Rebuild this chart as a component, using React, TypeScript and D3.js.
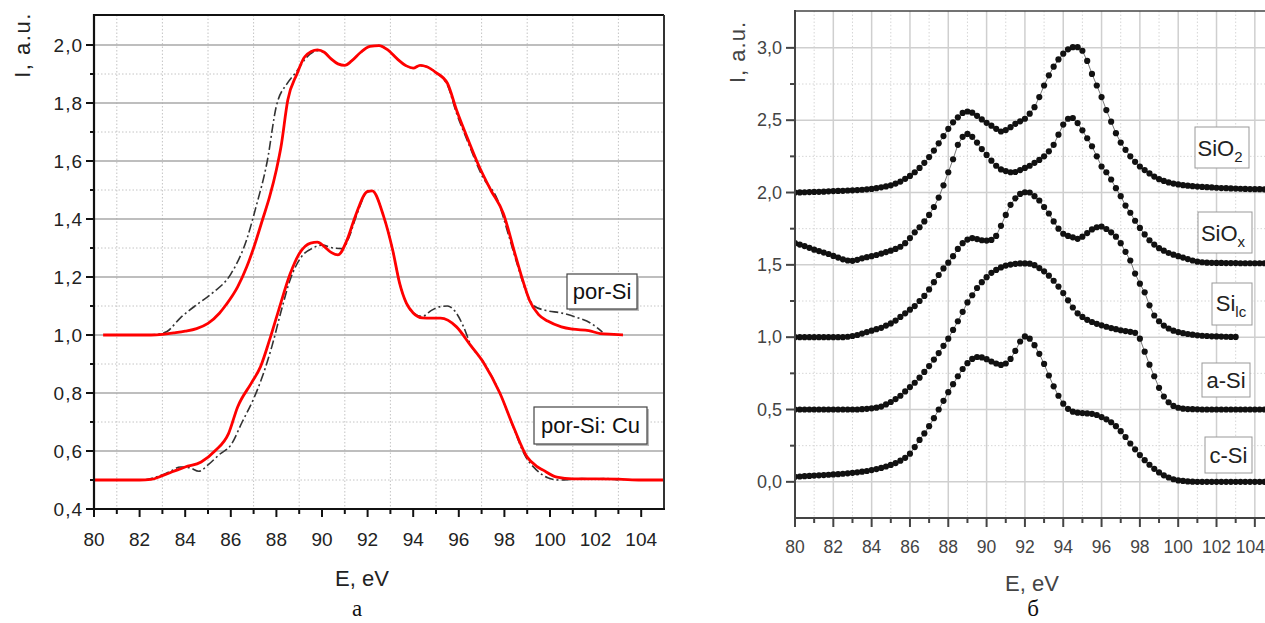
import React from 'react';
import * as d3 from 'd3';

// ---------- panel "а": por-Si and por-Si:Cu ----------
const porSiE = [80.4, 81.5, 82.5, 83.0, 83.5, 84.0, 84.5, 85.0, 85.5, 85.8, 86.3, 86.7, 87.0, 87.4, 87.7, 88.0, 88.2, 88.5, 88.9, 89.25, 89.8, 90.1, 90.4, 90.7, 91.0, 91.3, 91.7, 92.1, 92.5, 92.9, 93.3, 93.7, 94.0, 94.3, 94.6, 95.0, 95.5, 95.9, 96.4, 96.9, 97.4, 97.95, 98.5, 98.8, 99.1, 99.5, 99.9, 100.5, 101.0, 101.7, 102.2, 102.8, 103.2];
const porSiI = [1.000, 1.000, 1.000, 1.002, 1.007, 1.013, 1.022, 1.040, 1.075, 1.105, 1.166, 1.235, 1.300, 1.400, 1.476, 1.570, 1.648, 1.810, 1.900, 1.960, 1.983, 1.975, 1.952, 1.935, 1.930, 1.945, 1.975, 1.995, 1.998, 1.982, 1.952, 1.928, 1.920, 1.930, 1.925, 1.905, 1.868, 1.776, 1.675, 1.580, 1.500, 1.420, 1.270, 1.190, 1.120, 1.070, 1.048, 1.028, 1.020, 1.015, 1.005, 1.002, 1.000];

const porSiRefE = [82.3, 82.8, 83.2, 83.8, 84.6, 85.2, 86.0, 86.7, 87.1, 87.6, 88.0, 88.5, 88.9, 89.3, 89.8, 90.1, 90.4, 90.7, 91.0, 91.3, 91.7, 92.1, 92.5, 92.9, 93.3, 93.7, 94.0, 94.3, 94.6, 95.0, 95.5, 95.9, 96.4, 97.05, 97.7, 98.2, 98.6, 99.0, 99.3, 99.8, 100.5, 101.2, 101.8, 102.3];
const porSiRefI = [1.000, 1.003, 1.012, 1.060, 1.110, 1.145, 1.210, 1.330, 1.440, 1.600, 1.790, 1.870, 1.910, 1.955, 1.980, 1.975, 1.952, 1.935, 1.930, 1.945, 1.975, 1.995, 1.998, 1.982, 1.952, 1.928, 1.920, 1.930, 1.925, 1.905, 1.862, 1.765, 1.665, 1.545, 1.466, 1.340, 1.234, 1.140, 1.100, 1.085, 1.076, 1.060, 1.040, 1.010];

const porSiCuE = [80.0, 81.0, 82.0, 82.5, 83.0, 83.5, 84.0, 84.7, 85.3, 85.9, 86.3, 86.9, 87.3, 87.7, 88.1, 88.6, 89.0, 89.5, 89.8, 90.1, 90.4, 90.7, 91.1, 91.45, 92.0, 92.2, 92.7, 93.1, 93.4, 93.7, 94.0, 94.4, 94.8, 95.2, 95.9, 96.5, 97.1, 97.8, 98.4, 99.0, 99.4, 99.7, 100.3, 101.0, 102.0, 103.0, 104.0, 105.0];
const porSiCuI = [0.500, 0.500, 0.500, 0.502, 0.515, 0.530, 0.545, 0.562, 0.600, 0.660, 0.752, 0.834, 0.890, 0.983, 1.086, 1.210, 1.280, 1.317, 1.320, 1.305, 1.285, 1.276, 1.328, 1.407, 1.495, 1.497, 1.410, 1.293, 1.180, 1.110, 1.076, 1.059, 1.058, 1.058, 1.028, 0.966, 0.903, 0.800, 0.683, 0.579, 0.548, 0.534, 0.510, 0.504, 0.504, 0.503, 0.500, 0.500];

const porSiCuRefE = [82.2, 82.8, 83.3, 83.8, 84.2, 84.6, 85.0, 85.5, 86.0, 86.5, 87.0, 87.4, 87.8, 88.2, 88.6, 89.1, 89.6, 90.0, 90.5, 90.9, 91.2, 91.5, 92.0, 92.2, 92.7, 93.1, 93.4, 93.7, 94.0, 94.4, 94.8, 95.2, 95.5, 95.8, 96.2, 96.5, 97.1, 97.8, 98.4, 98.9, 99.4, 99.9, 100.4, 100.9, 101.4, 101.9, 102.4, 103.0];
const porSiCuRefI = [0.500, 0.512, 0.528, 0.545, 0.542, 0.530, 0.552, 0.588, 0.620, 0.700, 0.780, 0.860, 0.960, 1.080, 1.190, 1.270, 1.300, 1.310, 1.300, 1.298, 1.340, 1.410, 1.493, 1.497, 1.410, 1.293, 1.180, 1.110, 1.076, 1.064, 1.085, 1.098, 1.100, 1.085, 1.030, 0.970, 0.905, 0.800, 0.680, 0.585, 0.535, 0.508, 0.500, 0.502, 0.505, 0.503, 0.505, 0.500];

const leftXTicks = [80, 82, 84, 86, 88, 90, 92, 94, 96, 98, 100, 102, 104];
const leftXMinor = [81, 83, 85, 87, 89, 91, 93, 95, 97, 99, 101, 103];
const leftYTicks = [0.4, 0.6, 0.8, 1.0, 1.2, 1.4, 1.6, 1.8, 2.0];
const leftYMinor = [0.5, 0.7, 0.9, 1.1, 1.3, 1.5, 1.7, 1.9];

// ---------- panel "б": reference spectra, one point every 0.25 eV from 80 eV ----------
const startE = 80;
const stepE = 0.25;
const sio2 = [
  2.000, 2.001, 2.002, 2.003, 2.004, 2.005, 2.006, 2.008, 2.010, 2.011, 2.012, 2.014, 2.015, 2.017, 2.019, 2.022, 2.025,
  2.030, 2.036, 2.042, 2.050, 2.062, 2.076, 2.095, 2.115, 2.140, 2.170, 2.205, 2.245, 2.290, 2.340, 2.390, 2.440,
  2.485, 2.520, 2.550, 2.560, 2.552, 2.530, 2.505, 2.482, 2.462, 2.440, 2.422, 2.432, 2.452, 2.475, 2.492, 2.510,
  2.545, 2.590, 2.660, 2.740, 2.810, 2.870, 2.920, 2.960, 2.990, 3.005, 3.005, 2.980, 2.910, 2.820, 2.740, 2.660,
  2.570, 2.490, 2.410, 2.345, 2.295, 2.250, 2.212, 2.180, 2.155, 2.132, 2.110, 2.092, 2.080, 2.070, 2.062, 2.056,
  2.051, 2.047, 2.044, 2.041, 2.039, 2.037, 2.035, 2.033, 2.031, 2.030, 2.028, 2.027, 2.026, 2.025, 2.024, 2.023,
  2.023, 2.022, 2.022, 2.022,
];
const siox = [
  1.650, 1.640, 1.630, 1.618, 1.605, 1.595, 1.585, 1.575, 1.562, 1.550, 1.538, 1.530, 1.528, 1.535, 1.545, 1.553, 1.560,
  1.568, 1.578, 1.588, 1.598, 1.610, 1.625, 1.650, 1.685, 1.725, 1.760, 1.800, 1.845, 1.900, 1.965, 2.050, 2.140,
  2.230, 2.330, 2.385, 2.405, 2.385, 2.345, 2.300, 2.260, 2.220, 2.185, 2.160, 2.148, 2.140, 2.142, 2.155, 2.170,
  2.185, 2.205, 2.225, 2.250, 2.285, 2.330, 2.400, 2.470, 2.510, 2.515, 2.480, 2.430, 2.375, 2.320, 2.250, 2.180,
  2.140, 2.090, 2.030, 1.975, 1.910, 1.860, 1.805, 1.755, 1.710, 1.670, 1.640, 1.615, 1.598, 1.582, 1.570, 1.560,
  1.550, 1.540, 1.530, 1.522, 1.518, 1.515, 1.514, 1.513, 1.513, 1.512, 1.512, 1.512, 1.511, 1.511, 1.511, 1.511,
  1.511, 1.511, 1.510, 1.510,
];
const silc = [
  1.000, 1.000, 1.000, 1.000, 1.000, 1.000, 1.000, 1.000, 1.000, 1.000, 1.000, 1.003, 1.008, 1.015, 1.025, 1.035, 1.045,
  1.055, 1.065, 1.080, 1.095, 1.115, 1.140, 1.165, 1.190, 1.215, 1.250, 1.285, 1.330, 1.380, 1.430, 1.475, 1.515,
  1.560, 1.610, 1.650, 1.675, 1.685, 1.678, 1.670, 1.668, 1.672, 1.700, 1.770, 1.845, 1.915, 1.960, 1.990, 2.002,
  2.000, 1.975, 1.945, 1.900, 1.855, 1.800, 1.750, 1.715, 1.700, 1.690, 1.680, 1.695, 1.720, 1.745, 1.760, 1.765,
  1.748, 1.725, 1.695, 1.650, 1.590, 1.530, 1.440, 1.370, 1.310, 1.220, 1.150, 1.110, 1.080, 1.060, 1.045, 1.035,
  1.028, 1.022, 1.017, 1.013, 1.010, 1.008, 1.006, 1.005, 1.004, 1.003, 1.002, 1.002,
];
const aSi = [
  0.500, 0.500, 0.500, 0.500, 0.500, 0.500, 0.500, 0.500, 0.500, 0.500, 0.500, 0.500, 0.500, 0.500, 0.502, 0.505, 0.508,
  0.513, 0.520, 0.535, 0.552, 0.572, 0.595, 0.625, 0.655, 0.685, 0.720, 0.760, 0.800, 0.845, 0.890, 0.940, 0.990,
  1.050, 1.110, 1.175, 1.240, 1.290, 1.340, 1.380, 1.415, 1.445, 1.465, 1.482, 1.495, 1.502, 1.507, 1.510, 1.510,
  1.508, 1.498, 1.478, 1.455, 1.425, 1.390, 1.350, 1.305, 1.255, 1.205, 1.165, 1.140, 1.120, 1.105, 1.092, 1.082,
  1.072, 1.063, 1.055, 1.048, 1.042, 1.037, 1.030, 0.990, 0.900, 0.810, 0.730, 0.650, 0.590, 0.550, 0.525, 0.512,
  0.506, 0.503, 0.502, 0.501, 0.500, 0.500, 0.500, 0.500, 0.500, 0.500, 0.500, 0.500, 0.500, 0.500, 0.500, 0.500,
  0.500, 0.500, 0.500, 0.500,
];
const cSi = [
  0.035, 0.037, 0.039, 0.041, 0.043, 0.045, 0.047, 0.049, 0.051, 0.053, 0.056, 0.059, 0.062, 0.066, 0.070, 0.075, 0.081,
  0.088, 0.096, 0.106, 0.117, 0.130, 0.146, 0.166, 0.195, 0.240, 0.290, 0.335, 0.385, 0.440, 0.500, 0.560, 0.620,
  0.675, 0.730, 0.780, 0.820, 0.850, 0.863, 0.860, 0.848, 0.832, 0.818, 0.808, 0.818, 0.850, 0.905, 0.970, 1.005,
  0.990, 0.945, 0.885, 0.815, 0.735, 0.660, 0.595, 0.540, 0.505, 0.485, 0.478, 0.475, 0.473, 0.470, 0.462, 0.448,
  0.432, 0.412, 0.385, 0.350, 0.310, 0.265, 0.225, 0.185, 0.150, 0.118, 0.090, 0.065, 0.045, 0.030, 0.018, 0.010,
  0.006, 0.003, 0.001, 0.000, 0.000, 0.000, 0.000, 0.000, 0.000, 0.000, 0.000, 0.000, 0.000, 0.000, 0.000, 0.000,
  0.000, 0.000, 0.000, 0.000,
];

const rightXTicks = [80, 82, 84, 86, 88, 90, 92, 94, 96, 98, 100, 102, 104];
const rightXMinor = [81, 83, 85, 87, 89, 91, 93, 95, 97, 99, 101, 103];
const rightYTicks = [0, 0.5, 1.0, 1.5, 2.0, 2.5, 3.0];
const rightYMinor = [0.25, 0.75, 1.25, 1.75, 2.25, 2.75];

const SANS = '"Liberation Sans", Arial, sans-serif';
const SERIF = '"Liberation Serif", "DejaVu Serif", serif';
const fmt = (v: number) => v.toFixed(1).replace('.', ',');

const App = () => {
  // panel а
  const xL = d3.scaleLinear().domain([80, 105]).range([94, 664]);
  const yL = d3.scaleLinear().domain([0.4, 2.1]).range([509, 16]);
  const lineL = d3.line<[number, number]>()
    .x(d => xL(d[0]))
    .y(d => yL(d[1]))
    .curve(d3.curveMonotoneX);
  const zip = (e: number[], v: number[]) => e.map((x, i) => [x, v[i]] as [number, number]);

  // panel б
  const xR = d3.scaleLinear().domain([80, 105]).range([795, 1274]);
  const yR = d3.scaleLinear().domain([-0.25, 3.25]).range([518, 11.7]);
  const lineR = d3.line<number>()
    .x((d, i) => xR(startE + i * stepE))
    .y(d => yR(d));
  const rightSeries = [sio2, siox, silc, aSi, cSi];

  const [l0, l1] = xL.range();
  const b0 = yL.range()[0];

  return (
    <svg width={1265} height={623} style={{ position: 'absolute', left: 0, top: 0, background: '#fff' }}>
      <defs>
        <clipPath id="clipL"><rect x={94} y={15} width={570} height={494} /></clipPath>
        <clipPath id="clipR"><rect x={795} y={11} width={480} height={507} /></clipPath>
      </defs>

      {/* ---------------- panel а ---------------- */}
      <g>
        {leftYMinor.map(v => (
          <line key={'lym' + v} x1={l0} x2={664} y1={yL(v)} y2={yL(v)} stroke="#c4c4c4" strokeWidth={1} strokeDasharray="1.5,2" />
        ))}
        {leftXMinor.map(v => (
          <line key={'lxm' + v} x1={xL(v)} x2={xL(v)} y1={15} y2={b0} stroke="#c4c4c4" strokeWidth={1} strokeDasharray="1.5,2" />
        ))}
        {leftYTicks.filter(v => v > 0.4).map(v => (
          <line key={'lyg' + v} x1={l0} x2={664} y1={yL(v)} y2={yL(v)} stroke="#a8a8a8" strokeWidth={1.4} />
        ))}

        <g clipPath="url(#clipL)" fill="none">
          <path d={lineL(zip(porSiRefE, porSiRefI)) || ''} stroke="#333" strokeWidth={1.6} strokeDasharray="9,3,2,3" />
          <path d={lineL(zip(porSiCuRefE, porSiCuRefI)) || ''} stroke="#333" strokeWidth={1.6} strokeDasharray="9,3,2,3" />
          <path d={lineL(zip(porSiE, porSiI)) || ''} stroke="#ff0000" strokeWidth={2.8} />
          <path d={lineL(zip(porSiCuE, porSiCuI)) || ''} stroke="#ff0000" strokeWidth={2.8} />
        </g>

        {/* frame */}
        <line x1={l0} x2={l1} y1={15} y2={15} stroke="#111" strokeWidth={2} />
        <line x1={664} x2={664} y1={15} y2={b0} stroke="#333" strokeWidth={2} />
        <line x1={l0} x2={l0} y1={14} y2={b0 + 1} stroke="#111" strokeWidth={2.2} />
        <line x1={l0 - 1} x2={l1 + 1} y1={b0} y2={b0} stroke="#111" strokeWidth={2.2} />

        {leftXTicks.map(v => (
          <g key={'lxt' + v}>
            <line x1={xL(v)} x2={xL(v)} y1={b0} y2={b0 + 8} stroke="#111" strokeWidth={2} />
            <text x={xL(v)} y={546} textAnchor="middle" fontFamily={SANS} fontSize={19} fill="#222">{v}</text>
          </g>
        ))}
        {leftXMinor.map(v => (
          <line key={'lxmt' + v} x1={xL(v)} x2={xL(v)} y1={b0} y2={b0 + 5} stroke="#111" strokeWidth={2} />
        ))}
        {leftYTicks.map(v => (
          <g key={'lyt' + v}>
            <line x1={l0 - 8} x2={l0} y1={yL(v)} y2={yL(v)} stroke="#111" strokeWidth={2} />
            <text x={83} y={yL(v) + 6.5} textAnchor="end" fontFamily={SANS} fontSize={19} letterSpacing={1} fill="#222">{fmt(v)}</text>
          </g>
        ))}
        {leftYMinor.map(v => (
          <line key={'lymt' + v} x1={l0 - 4} x2={l0} y1={yL(v)} y2={yL(v)} stroke="#111" strokeWidth={2} />
        ))}

        <text transform="translate(30,45) rotate(-90)" textAnchor="middle" fontFamily={SANS} fontSize={22} letterSpacing={1.5} fill="#222">I, a.u.</text>
        <text x={362} y={586} textAnchor="middle" fontFamily={SANS} fontSize={22} fill="#222">E, eV</text>
        <text x={357} y={616} textAnchor="middle" fontFamily={SERIF} fontSize={23} fill="#111">а</text>

        <rect x={569} y={276} width={70} height={35} fill="#bbb" />
        <rect x={567} y={274} width={70} height={35} fill="#fff" stroke="#444" strokeWidth={1.2} />
        <text x={602} y={299} textAnchor="middle" fontFamily={SANS} fontSize={22} fill="#111">por-Si</text>
        <rect x={536} y={409} width={113} height={37} fill="#bbb" />
        <rect x={534} y={407} width={113} height={37} fill="#fff" stroke="#444" strokeWidth={1.2} />
        <text x={590.5} y={433} textAnchor="middle" fontFamily={SANS} fontSize={22} fill="#111">por-Si: Cu</text>
      </g>

      {/* ---------------- panel б ---------------- */}
      <g>
        {rightYMinor.map(v => (
          <line key={'rym' + v} x1={795} x2={1265} y1={yR(v)} y2={yR(v)} stroke="#d6d6d6" strokeWidth={1} strokeDasharray="1.5,2" />
        ))}
        {rightXMinor.map(v => (
          <line key={'rxm' + v} x1={xR(v)} x2={xR(v)} y1={11} y2={518} stroke="#d6d6d6" strokeWidth={1} strokeDasharray="1.5,2" />
        ))}
        {rightYTicks.map(v => (
          <line key={'ryg' + v} x1={795} x2={1265} y1={yR(v)} y2={yR(v)} stroke="#cfcfcf" strokeWidth={1.5} />
        ))}
        {rightXTicks.filter(v => v > 80).map(v => (
          <line key={'rxg' + v} x1={xR(v)} x2={xR(v)} y1={11} y2={518} stroke="#cfcfcf" strokeWidth={1.5} />
        ))}

        <g clipPath="url(#clipR)">
          {rightSeries.map((s, k) => (
            <g key={'rs' + k}>
              <path d={lineR(s) || ''} fill="none" stroke="#555" strokeWidth={0.8} />
              {s.map((v, i) => (
                <circle key={i} cx={xR(startE + i * stepE)} cy={yR(v)} r={3.1} fill="#111" />
              ))}
            </g>
          ))}
        </g>

        <line x1={795} x2={1265} y1={11} y2={11} stroke="#444" strokeWidth={1.6} />
        <line x1={795} x2={795} y1={10} y2={519} stroke="#444" strokeWidth={2} />
        <line x1={794} x2={1265} y1={518} y2={518} stroke="#444" strokeWidth={2} />

        {rightXTicks.map(v => {
          const edge = xR(v) + 15 > 1265;
          return (
            <g key={'rxt' + v}>
              <line x1={xR(v)} x2={xR(v)} y1={518} y2={527} stroke="#444" strokeWidth={2} />
              <text x={edge ? 1265 : xR(v)} y={553} textAnchor={edge ? 'end' : 'middle'} fontFamily={SANS} fontSize={17.5} fill="#444">{v}</text>
            </g>
          );
        })}
        {rightXMinor.map(v => (
          <line key={'rxmt' + v} x1={xR(v)} x2={xR(v)} y1={518} y2={523} stroke="#444" strokeWidth={2} />
        ))}
        {rightYTicks.map(v => (
          <g key={'ryt' + v}>
            <line x1={786} x2={795} y1={yR(v)} y2={yR(v)} stroke="#444" strokeWidth={2} />
            <text x={782} y={yR(v) + 6} textAnchor="end" fontFamily={SANS} fontSize={18} fill="#444">{fmt(v)}</text>
          </g>
        ))}
        {rightYMinor.map(v => (
          <line key={'rymt' + v} x1={790} x2={795} y1={yR(v)} y2={yR(v)} stroke="#444" strokeWidth={2} />
        ))}

        <text transform="translate(745,52) rotate(-90)" textAnchor="middle" fontFamily={SANS} fontSize={22} letterSpacing={1} fill="#444">I, a.u.</text>
        <text x={1032} y={591} textAnchor="middle" fontFamily={SANS} fontSize={22} fill="#444">E, eV</text>
        <text x={1033} y={616} textAnchor="middle" fontFamily={SERIF} fontSize={23} fill="#111">б</text>

        <rect x={1195} y={127} width={54} height={41} fill="#fff" stroke="#999" strokeWidth={1} />
        <text x={1220} y={156} textAnchor="middle" fontFamily={SANS} fontSize={22} fill="#222">SiO<tspan fontSize={15} dy={6}>2</tspan></text>
        <rect x={1198} y={212} width={54} height={41} fill="#fff" stroke="#999" strokeWidth={1} />
        <text x={1223} y={241} textAnchor="middle" fontFamily={SANS} fontSize={22} fill="#222">SiO<tspan fontSize={15} dy={6}>x</tspan></text>
        <rect x={1212} y={283} width={40} height={42} fill="#fff" stroke="#999" strokeWidth={1} />
        <text x={1231} y={311} textAnchor="middle" fontFamily={SANS} fontSize={22} fill="#222">Si<tspan fontSize={15} dy={6}>lc</tspan></text>
        <rect x={1202} y={363} width={48} height={34} fill="#fff" stroke="#999" strokeWidth={1} />
        <text x={1226} y={388} textAnchor="middle" fontFamily={SANS} fontSize={22} fill="#222">a-Si</text>
        <rect x={1205} y={437} width={47} height={36} fill="#fff" stroke="#999" strokeWidth={1} />
        <text x={1228.5} y={463} textAnchor="middle" fontFamily={SANS} fontSize={22} fill="#222">c-Si</text>
      </g>
    </svg>
  );
};

export default App;
